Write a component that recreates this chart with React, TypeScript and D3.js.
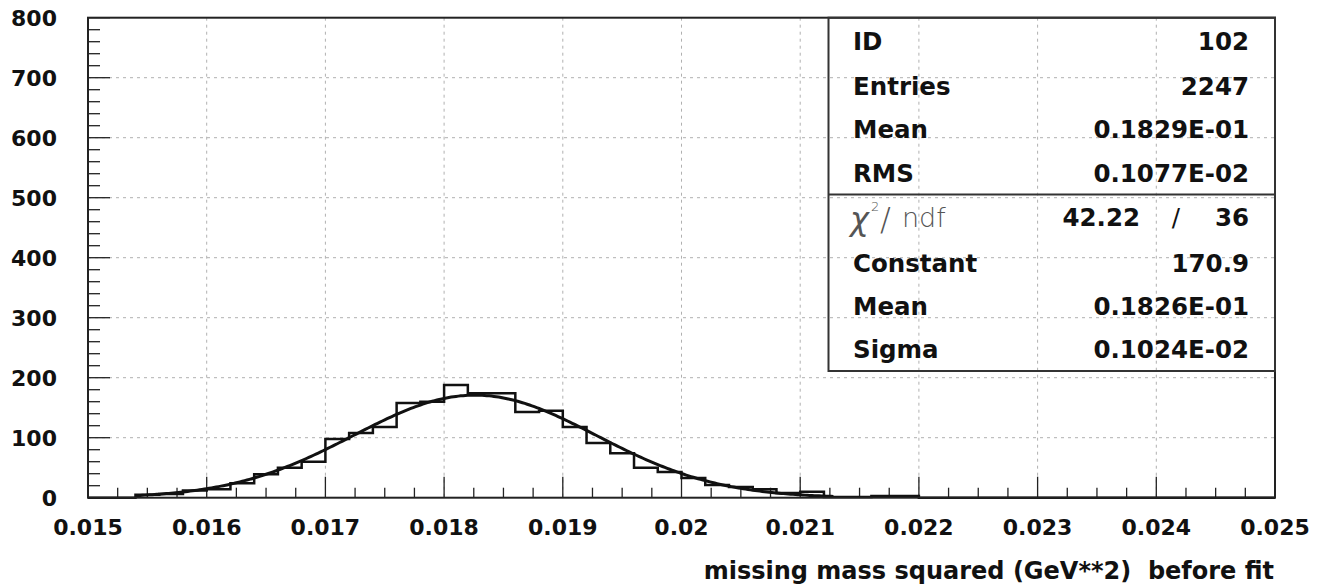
import * as d3 from "d3";

// histogram: 50 bins of 0.0002 from 0.015 to 0.025
const binLow = 0.015;
const binWidth = 0.0002;
const counts = [
  0, 0, 5, 6, 12, 14, 24, 39, 50, 60,
  98, 108, 118, 158, 160, 188, 174, 174, 143, 145,
  118, 91, 74, 50, 43, 33, 21, 18, 14, 8,
  10, 1, 1, 3, 3, 0, 0, 0, 0, 0,
  0, 0, 0, 0, 0, 0, 0, 0, 0, 0,
];

const xTicks = [0.015, 0.016, 0.017, 0.018, 0.019, 0.02, 0.021, 0.022, 0.023, 0.024, 0.025];
const xTickLabels = ["0.015", "0.016", "0.017", "0.018", "0.019", "0.02", "0.021", "0.022", "0.023", "0.024", "0.025"];
const yTicks = [0, 100, 200, 300, 400, 500, 600, 700, 800];

// gaussian fit parameters from the stats box
const fitConstant = 170.9;
const fitMean = 0.01826;
const fitSigma = 0.001024;
const fitRange = [0.0154, 0.0213];

const statsTop = [
  ["ID", "102"],
  ["Entries", "2247"],
  ["Mean", "0.1829E-01"],
  ["RMS", "0.1077E-02"],
];
const chi2 = "42.22";
const ndf = "36";
const statsFit = [
  ["Constant", "170.9"],
  ["Mean", "0.1826E-01"],
  ["Sigma", "0.1024E-02"],
];

const W = 1322;
const H = 586;
const left = 88, right = 1275, top = 17.7, bottom = 497.7;
const font = "'DejaVu Sans', sans-serif";

export default function App() {
  const x = d3.scaleLinear().domain([0.015, 0.025]).range([left, right]);
  const y = d3.scaleLinear().domain([0, 800]).range([bottom, top]);

  const minorX = d3.range(0, 41).map(i => 0.015 + i * 0.00025);
  const minorY = d3.range(0, 41).map(i => i * 20);

  const stepPts: [number, number][] = counts.map((c, i) => [binLow + i * binWidth, c]);
  stepPts.push([binLow + counts.length * binWidth, counts[counts.length - 1]]);
  const histLine = d3.line<[number, number]>()
    .x(d => x(d[0]))
    .y(d => y(d[1]))
    .curve(d3.curveStepAfter);

  const fitXs = d3.range(fitRange[0], fitRange[1], 0.00002);
  const fitLine = d3.line<number>()
    .x(d => x(d))
    .y(d => y(fitConstant * Math.exp(-0.5 * ((d - fitMean) / fitSigma) ** 2)));

  const boxL = 828.5, boxR = right, boxMid = 194.5, boxB = 371;
  const labX = 853, valX = 1249;
  const rowBase = [50, 95, 138, 182];
  const fitBase = [272, 315, 358];

  return (
    <svg width={W} height={H} style={{ position: "absolute", left: 0, top: 0, background: "#fff" }}>
      {/* grid */}
      <g stroke="#b0b0b0" strokeWidth={1} strokeDasharray="3,4">
        {xTicks.slice(1, -1).map(t => (
          <line key={"gx" + t} x1={x(t)} x2={x(t)} y1={top} y2={bottom} />
        ))}
        {yTicks.slice(1, -1).map(t => (
          <line key={"gy" + t} x1={left} x2={right} y1={y(t)} y2={y(t)} />
        ))}
      </g>

      {/* ticks */}
      <g stroke="#222" strokeWidth={1.3}>
        {minorX.map((t, i) => (
          <line key={"mx" + i} x1={x(t)} x2={x(t)} y1={bottom} y2={bottom - (i % 4 === 0 ? 21 : 10)} />
        ))}
        {minorY.map((t, i) => (
          <line key={"my" + i} x1={left} x2={left + (i % 5 === 0 ? 22 : 12)} y1={y(t)} y2={y(t)} />
        ))}
      </g>

      {/* histogram */}
      <path d={histLine(stepPts) || ""} fill="none" stroke="#111" strokeWidth={2.5} />
      {/* fit */}
      <path d={fitLine(fitXs) || ""} fill="none" stroke="#111" strokeWidth={3} />

      {/* frame */}
      <rect x={left} y={top} width={right - left} height={bottom - top} fill="none" stroke="#222" strokeWidth={2} />

      {/* axis labels */}
      <g fontFamily={font} fontWeight="bold" fontSize={22} fill="#111">
        {yTicks.map(t => (
          <text key={"yl" + t} x={57} y={y(t)} dy="0.38em" textAnchor="end">{t}</text>
        ))}
        {xTicks.map((t, i) => (
          <text key={"xl" + t} x={x(t)} y={535} textAnchor="middle">{xTickLabels[i]}</text>
        ))}
        <text x={1274} y={579} textAnchor="end" fontSize={24} style={{ whiteSpace: "pre" }}>missing mass squared (GeV**2)  before fit</text>
      </g>

      {/* stats box */}
      <g fill="none" stroke="#333" strokeWidth={2}>
        <rect x={boxL} y={top} width={boxR - boxL} height={boxB - top} />
        <line x1={boxL} x2={boxR} y1={boxMid} y2={boxMid} />
      </g>
      <g fontFamily={font} fontWeight="bold" fontSize={24.5} fill="#111">
        {statsTop.map((r, i) => (
          <g key={"st" + i}>
            <text x={labX} y={rowBase[i]}>{r[0]}</text>
            <text x={valX} y={rowBase[i]} textAnchor="end">{r[1]}</text>
          </g>
        ))}
        {statsFit.map((r, i) => (
          <g key={"sf" + i}>
            <text x={labX} y={fitBase[i]}>{r[0]}</text>
            <text x={valX} y={fitBase[i]} textAnchor="end">{r[1]}</text>
          </g>
        ))}
        <text x={1140} y={226} textAnchor="end">{chi2}</text>
        <text x={1176} y={226} textAnchor="middle" fontWeight="normal">/</text>
        <text x={valX} y={226} textAnchor="end">{ndf}</text>
      </g>
      <g fontFamily={font} fontWeight={200} fill="#555">
        <text x={850} y={230} fontSize={32} fontStyle="italic">χ</text>
        <text x={871} y={211} fontSize={13}>2</text>
        <text x={880} y={230} fontSize={32}>/</text>
        <text x={902} y={227} fontSize={27}>ndf</text>
      </g>
    </svg>
  );
}
